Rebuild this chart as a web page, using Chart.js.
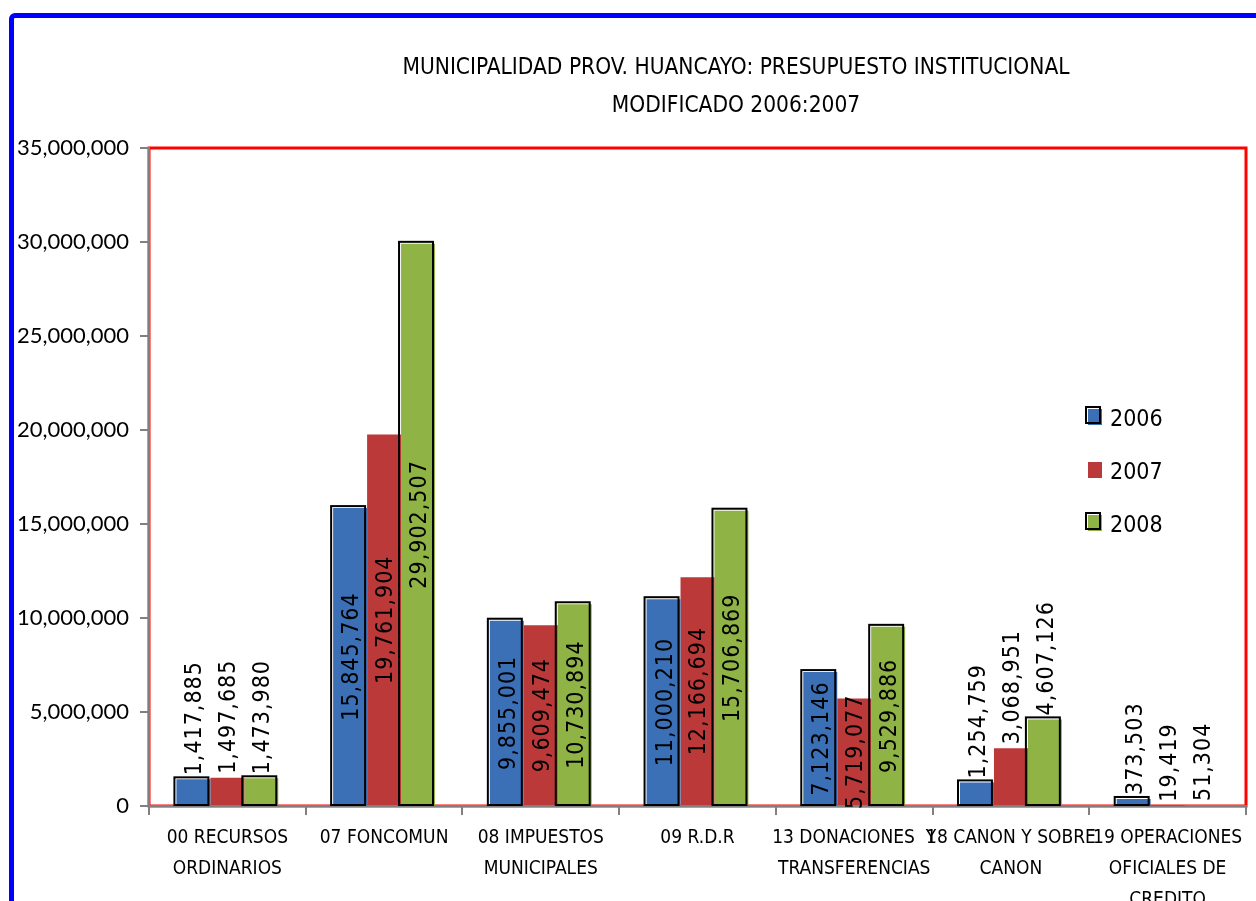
<!DOCTYPE html>
<html lang="es">
<head>
<meta charset="utf-8">
<title>Presupuesto Institucional Modificado</title>
<script src="https://cdn.jsdelivr.net/npm/chart.js@4.4.1/dist/chart.umd.min.js"></script>
<style>
    html, body { margin: 0; padding: 0; background: #ffffff; overflow: hidden; }
    #contenedor { position: relative; width: 1256px; height: 901px; }
    #marco {
        position: absolute; left: 9px; top: 13px;
        width: 1400px; height: 1000px;
        border: 5px solid #0000ff; border-radius: 6px;
        pointer-events: none;
    }
    #grafica { position: absolute; left: 0; top: 0; }
</style>
</head>
<body>
<div id="contenedor">
    <div id="marco"></div>
    <canvas id="grafica" width="1256" height="901"></canvas>
</div>
<script>
const titulo = ["MUNICIPALIDAD PROV. HUANCAYO: PRESUPUESTO INSTITUCIONAL", "MODIFICADO 2006:2007"];

const categorias = [
    ["00 RECURSOS", "ORDINARIOS"],
    ["07 FONCOMUN"],
    ["08 IMPUESTOS", "MUNICIPALES"],
    ["09 R.D.R"],
    ["13 DONACIONES  Y", "TRANSFERENCIAS"],
    ["18 CANON Y SOBRE", "CANON"],
    ["19 OPERACIONES", "OFICIALES DE", "CREDITO"]
];

const anios = ["2006", "2007", "2008"];
const valores2006 = [1417885, 15845764, 9855001, 11000210, 7123146, 1254759, 373503];
const valores2007 = [1497685, 19761904, 9609474, 12166694, 5719077, 3068951, 19419];
const valores2008 = [1473980, 29902507, 10730894, 15706869, 9529886, 4607126, 51304];

const ejeMin = 0;
const ejeMax = 35000000;
const ejePaso = 5000000;

const colores = ["#3b70b6", "#bb3a39", "#8fb345"];
const conContorno = [true, false, true];

const fuenteAngosta = "'Liberation Sans Narrow', 'Arial Narrow', 'DejaVu Sans Condensed', sans-serif";

function formatear(n){
    return n.toLocaleString("en-US");
}

// marco rojo del area de trazado
const marcoRojo = {
    id: "marcoRojo",
    beforeDraw(chart){
        const { ctx, chartArea: a } = chart;
        ctx.save();
        ctx.strokeStyle = "#ff0000";
        ctx.lineWidth = 3;
        ctx.strokeRect(a.left, a.top, a.right - a.left, a.bottom - a.top);
        ctx.restore();
    }
};

const tituloManual = {
    id: "tituloManual",
    afterDraw(chart){
        const ctx = chart.ctx;
        ctx.save();
        ctx.fillStyle = "#000000";
        ctx.font = "22.5px " + fuenteAngosta;
        ctx.textAlign = "center";
        ctx.textBaseline = "middle";
        titulo.forEach((linea, i) => {
            ctx.fillText(linea, 736, 68 + i * 38);
        });
        ctx.restore();
    }
};

// contorno desplazado y etiquetas verticales
const contornoYEtiquetas = {
    id: "contornoYEtiquetas",
    afterDatasetsDraw(chart){
        const ctx = chart.ctx;
        ctx.save();

        chart.data.datasets.forEach((ds, d) => {
            if(!conContorno[d]) return;
            chart.getDatasetMeta(d).data.forEach((bar) => {
                const w = bar.width;
                if(bar.base - bar.y < 4) return;
                ctx.strokeStyle = "#000000";
                ctx.lineWidth = 2;
                ctx.strokeRect(bar.x - w / 2 - 2, bar.y - 2, w, bar.base - bar.y + 2);
            });
        });

        ctx.font = "23px " + fuenteAngosta;
        ctx.letterSpacing = "1px";
        ctx.fillStyle = "#000000";
        ctx.textBaseline = "middle";

        chart.data.datasets.forEach((ds, d) => {
            chart.getDatasetMeta(d).data.forEach((bar, i) => {
                const texto = formatear(ds.data[i]);
                const largo = ctx.measureText(texto).width;
                const alto = bar.base - bar.y;
                ctx.save();
                if(alto > largo * 0.8){
                    ctx.translate(bar.x + 2, (bar.y + bar.base) / 2);
                    ctx.rotate(-Math.PI / 2);
                    ctx.textAlign = "center";
                    ctx.fillText(texto, 0, 0);
                }else{
                    ctx.translate(bar.x + 2, bar.y - 4);
                    ctx.rotate(-Math.PI / 2);
                    ctx.textAlign = "left";
                    ctx.fillText(texto, 0, 0);
                }
                ctx.restore();
            });
        });
        ctx.restore();
    }
};

const leyendaManual = {
    id: "leyendaManual",
    afterDraw(chart){
        const ctx = chart.ctx;
        ctx.save();
        ctx.font = "23px " + fuenteAngosta;
        ctx.textBaseline = "middle";
        ctx.textAlign = "left";
        chart.data.datasets.forEach((ds, d) => {
            const yc = 420 + d * 53;
            ctx.fillStyle = ds.backgroundColor;
            ctx.fillRect(1088, yc - 11, 14, 16);
            if(conContorno[d]){
                ctx.strokeStyle = "#000000";
                ctx.lineWidth = 2;
                ctx.strokeRect(1086, yc - 13, 14, 16);
            }
            ctx.fillStyle = "#000000";
            ctx.fillText(ds.label, 1110, yc);
        });
        ctx.restore();
    }
};

function crearGrafica(){
    const ctx = document.getElementById("grafica").getContext("2d");

    new Chart(ctx, {
        type: "bar",
        data: {
            labels: categorias,
            datasets: [valores2006, valores2007, valores2008].map((serie, d) => ({
                label: anios[d],
                data: serie,
                backgroundColor: colores[d],
                borderWidth: 0,
                categoryPercentage: 0.65,
                barPercentage: 1.0
            }))
        },
        options: {
            responsive: false,
            animation: false,
            layout: { padding: { top: 148, right: 10, bottom: 0, left: 0 } },
            plugins: {
                legend: { display: false },
                title: { display: false },
                tooltip: { enabled: false }
            },
            scales: {
                x: {
                    grid: {
                        drawOnChartArea: false,
                        color: "#808080",
                        lineWidth: 2,
                        tickLength: 9
                    },
                    border: { color: "#808080", width: 2 },
                    ticks: {
                        autoSkip: false,
                        maxRotation: 0,
                        minRotation: 0,
                        padding: 8,
                        color: "#000000",
                        font: { family: fuenteAngosta, size: 19, lineHeight: 1.63 }
                    },
                    afterFit(scale){ scale.height = 95; }
                },
                y: {
                    min: ejeMin,
                    max: ejeMax,
                    grid: {
                        drawOnChartArea: false,
                        color: "#808080",
                        lineWidth: 2,
                        tickLength: 9
                    },
                    border: { color: "#808080", width: 2 },
                    ticks: {
                        stepSize: ejePaso,
                        padding: 11,
                        color: "#000000",
                        font: { family: "Lato, 'Open Sans', sans-serif", size: 22 },
                        callback: (v) => formatear(v)
                    },
                    afterFit(scale){ scale.width = 149; }
                }
            }
        },
        plugins: [marcoRojo, contornoYEtiquetas, tituloManual, leyendaManual]
    });
}

Promise.all([
    document.fonts.load("22px Lato"),
    document.fonts.load("22px 'DejaVu Sans Condensed'")
]).then(crearGrafica, crearGrafica);
</script>
</body>
</html>
